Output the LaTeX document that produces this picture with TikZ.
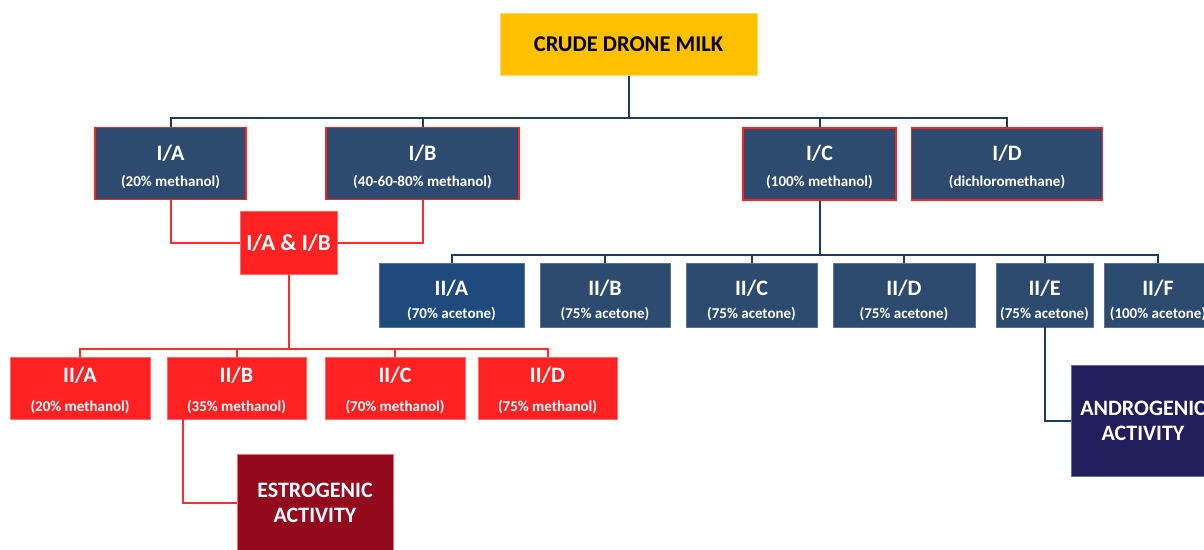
\documentclass[tikz,border=0pt]{standalone}
\usepackage{fontspec}
\setmainfont{Carlito}
\definecolor{gold}{HTML}{FFC000}
\definecolor{goldedge}{HTML}{FFD966}
\definecolor{navyf}{HTML}{2D4B6F}
\definecolor{bluef}{HTML}{1F4A7E}
\definecolor{navyedge}{HTML}{5A7394}
\definecolor{navyline}{HTML}{1F3A62}
\definecolor{redf}{HTML}{FF2222}
\definecolor{rededge}{HTML}{FF6A6A}
\definecolor{redline}{HTML}{FF2A2A}
\definecolor{estro}{HTML}{930A1E}
\definecolor{andro}{HTML}{221E5B}
% #1 main label, #2 subtitle, #3 extra line gap, #4 strut height of first line
\newcommand{\twol}[4]{{\fontsize{22}{22}\selectfont\rule{0pt}{#4}#1}\\[#3]#2}
\tikzset{
  box/.style={rectangle, inner sep=0pt, align=center, text=white,
    font=\bfseries\fontsize{15}{15}\selectfont},
  topbox/.style={box, fill=gold, draw=goldedge, line width=1pt, text=black,
    font=\bfseries\fontsize{22.5}{22.5}\selectfont},
  lvlone/.style={box, fill=navyf, draw=redf, line width=1.8pt},
  bluebox/.style={box, fill=navyf, draw=navyedge, line width=0.8pt},
  redbox/.style={box, fill=redf, draw=rededge, line width=1pt},
  actbox/.style={box, line width=1pt, font=\bfseries\fontsize{22}{25}\selectfont},
  nline/.style={draw=navyline, line width=2pt},
  rline/.style={draw=redline, line width=2pt},
}
\begin{document}
\begin{tikzpicture}[x=1pt,y=-1pt]
\clip (0,0) rectangle (1204,549);
\fill[white] (0,0) rectangle (1204,549);

% nodes
\node[topbox, minimum width=257pt, minimum height=62pt] (title) at (628.5,44) {CRUDE DRONE MILK};

\node[lvlone, minimum width=151pt, minimum height=72pt] (IA) at (170.5,163.5) {\twol{I/A}{(20\% methanol)}{11pt}{22pt}};
\node[lvlone, minimum width=193pt, minimum height=72pt] (IB) at (422.5,163.5) {\twol{I/B}{(40-60-80\% methanol)}{11pt}{22pt}};
\node[lvlone, minimum width=153pt, minimum height=72pt] (IC) at (819.5,164) {\twol{I/C}{(100\% methanol)}{11pt}{22pt}};
\node[lvlone, minimum width=191pt, minimum height=72pt] (ID) at (1007,164) {\twol{I/D}{(dichloromethane)}{11pt}{22pt}};

\node[redbox, minimum width=97pt, minimum height=63pt, font=\bfseries\fontsize{23}{23}\selectfont] (IAB) at (288.5,242.5) {I/A \& I/B};

\node[bluebox, fill=bluef, minimum width=145pt, minimum height=64pt] (bIIA) at (451.5,295) {\twol{II/A}{(70\% acetone)}{8pt}{26pt}};
\node[bluebox, minimum width=130pt, minimum height=64pt] (bIIB) at (605,295) {\twol{II/B}{(75\% acetone)}{8pt}{26pt}};
\node[bluebox, minimum width=131pt, minimum height=64pt] (bIIC) at (751.5,295) {\twol{II/C}{(75\% acetone)}{8pt}{26pt}};
\node[bluebox, minimum width=142pt, minimum height=64pt] (bIID) at (904,295) {\twol{II/D}{(75\% acetone)}{8pt}{26pt}};
\node[bluebox, minimum width=97pt, minimum height=64pt] (bIIE) at (1044.5,295) {\twol{II/E}{(75\% acetone)}{8pt}{26pt}};
\node[bluebox, minimum width=108pt, minimum height=64pt] (bIIF) at (1158,295) {\twol{II/F}{(100\% acetone)}{8pt}{26pt}};

\node[redbox, minimum width=140pt, minimum height=62pt] (rIIA) at (80,388) {\twol{II/A}{(20\% methanol)}{14pt}{20pt}};
\node[redbox, minimum width=139pt, minimum height=62pt] (rIIB) at (236.5,388) {\twol{II/B}{(35\% methanol)}{14pt}{20pt}};
\node[redbox, minimum width=140pt, minimum height=62pt] (rIIC) at (395,388) {\twol{II/C}{(70\% methanol)}{14pt}{20pt}};
\node[redbox, minimum width=139pt, minimum height=62pt] (rIID) at (547.5,388) {\twol{II/D}{(75\% methanol)}{14pt}{20pt}};

\node[actbox, fill=estro, draw=rededge, minimum width=156pt, minimum height=98pt] (estr) at (315,503) {ESTROGENIC\\ACTIVITY};
\node[actbox, fill=andro, draw=navyedge, minimum width=144pt, minimum height=111pt] (andr) at (1143,420.5) {ANDROGENIC\\ACTIVITY};

% bus coordinates
\coordinate (b1) at (628.5,118);
\coordinate (b2) at (819.5,255);
\coordinate (b3) at (288.5,349);
\coordinate (eb) at (183,419);

% connectors, level I
\foreach \n in {IA,IB,IC,ID}
  \draw[nline] (title.south) -- (b1) -| (\n.north);
% I/C to level II blue
\foreach \n in {bIIA,bIIB,bIIC,bIID,bIIE,bIIF}
  \draw[nline] (IC.south) -- (b2) -| (\n.north);
\draw[nline] (bIIE.south) |- (andr.west);
% red connectors
\draw[rline] (IA.south) |- (IAB.west);
\draw[rline] (IB.south) |- (IAB.east);
\foreach \n in {rIIA,rIIB,rIIC,rIID}
  \draw[rline] (IAB.south) -- (b3) -| (\n.north);
\draw[rline] (eb) |- (estr.west);
\end{tikzpicture}
\end{document}
